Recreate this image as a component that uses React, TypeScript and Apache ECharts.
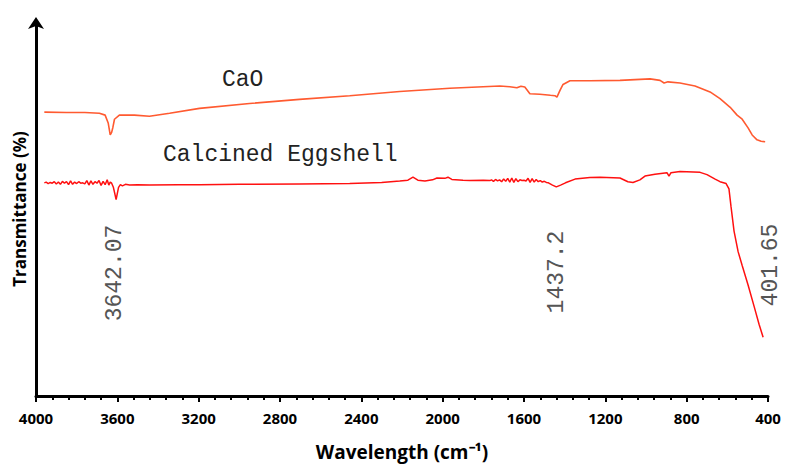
import React, { useEffect, useRef } from "react";
import * as echarts from "echarts";

const xTicks = [4000, 3600, 3200, 2800, 2400, 2000, 1600, 1200, 800, 400];

const caoWave = [3959, 3850, 3760, 3688, 3660, 3645, 3635, 3628, 3622, 3614, 3590, 3516, 3442, 3343, 3196, 2950, 2704, 2457, 2211, 1965, 1719, 1670, 1635, 1615, 1596, 1571, 1522, 1470, 1448, 1438, 1423, 1408, 1374, 1276, 1128, 980, 931, 911, 892, 833, 759, 685, 636, 586, 552, 527, 498, 478, 454, 434, 414];
const caoT = [75.9, 75.8, 75.8, 75.6, 75.1, 73.0, 69.8, 70.5, 71.8, 74.0, 75.1, 75.1, 74.8, 75.6, 76.9, 78.2, 79.3, 80.3, 81.4, 82.3, 82.9, 82.7, 82.4, 82.8, 82.6, 80.8, 80.7, 80.4, 80.3, 79.9, 81.7, 83.3, 84.3, 84.3, 84.4, 84.8, 84.4, 83.7, 84.0, 83.7, 82.9, 81.3, 79.5, 77.2, 75.1, 74.0, 71.7, 69.8, 68.5, 68.1, 68.0];

const eggWave = [3959, 3950, 3940, 3930, 3920, 3910, 3900, 3890, 3880, 3870, 3860, 3850, 3840, 3830, 3820, 3810, 3800, 3790, 3780, 3770, 3760, 3750, 3740, 3730, 3720, 3710, 3700, 3690, 3680, 3670, 3660, 3650, 3642, 3635, 3628, 3620, 3612, 3606, 3600, 3594, 3585, 3575, 3560, 3540, 3500, 3442, 3300, 3196, 3000, 2704, 2457, 2300, 2211, 2171, 2146, 2122, 2087, 2050, 2028, 1989, 1974, 1955, 1900, 1866, 1800, 1768, 1760, 1750, 1740, 1730, 1720, 1710, 1700, 1690, 1680, 1670, 1660, 1650, 1640, 1630, 1620, 1610, 1600, 1590, 1580, 1570, 1560, 1550, 1540, 1530, 1520, 1510, 1500, 1490, 1480, 1460, 1441, 1420, 1396, 1349, 1276, 1226, 1128, 1089, 1064, 1030, 1005, 956, 897, 887, 877, 833, 734, 700, 660, 636, 606, 592, 582, 567, 547, 527, 498, 468, 444, 424];
const eggT = [57.0, 57.2, 56.8, 57.1, 56.9, 57.3, 56.7, 57.2, 56.6, 57.4, 56.9, 57.3, 56.5, 57.5, 56.6, 57.2, 56.8, 57.3, 56.9, 57.0, 56.7, 57.6, 56.4, 57.5, 56.6, 57.3, 56.9, 57.6, 56.3, 57.4, 56.5, 57.8, 56.4, 57.2, 56.9, 55.9, 54.0, 52.5, 54.2, 55.8, 56.5, 56.2, 56.6, 56.4, 56.5, 56.4, 56.5, 56.5, 56.6, 56.7, 56.8, 57.1, 57.5, 57.7, 58.5, 57.7, 57.5, 57.8, 58.3, 58.2, 58.5, 57.9, 57.7, 57.6, 57.7, 57.6, 57.8, 57.4, 57.9, 57.5, 57.8, 57.3, 58.0, 57.4, 58.2, 57.2, 58.3, 57.1, 58.1, 57.3, 57.8, 57.6, 57.7, 57.5, 58.2, 57.1, 58.1, 57.2, 57.9, 57.3, 57.6, 57.2, 57.4, 57.1, 57.0, 56.4, 55.9, 56.4, 57.0, 58.0, 58.4, 58.5, 58.3, 57.3, 57.1, 57.8, 58.8, 59.3, 59.7, 58.8, 59.7, 60.0, 59.8, 59.2, 58.0, 57.3, 56.8, 55.4, 50.7, 44.1, 38.6, 34.9, 29.7, 23.9, 19.2, 15.7];

const seriesNames = ["CaO", "Calcined Eggshell"];
const peakLabels = ["3642.07", "1437.2", "401.65"];

export default function App() {
  const ref = useRef<HTMLDivElement>(null);
  useEffect(() => {
    if (!ref.current) return;
    const chart = echarts.init(ref.current, null, { renderer: "svg" });
    const mono = "Liberation Mono, Courier New, monospace";
    chart.setOption({
      animation: false,
      backgroundColor: "#ffffff",
      grid: { left: 36, right: 17, top: 22, bottom: 63 },
      xAxis: {
        type: "value",
        inverse: true,
        min: 400,
        max: 4000,
        interval: 400,
        name: "Wavelength (cm⁻¹)",
        nameLocation: "middle",
        nameGap: 46,
        nameTextStyle: { fontFamily: "Open Sans", fontWeight: "bold", fontSize: 19, color: "#000" },
        axisLine: { lineStyle: { color: "#000", width: 3 } },
        axisTick: { show: true, length: 6, lineStyle: { color: "#000", width: 2 } },
        minorTick: { show: true, splitNumber: 5, length: 4, lineStyle: { color: "#000", width: 2 } },
        splitLine: { show: false },
        axisLabel: {
          margin: 14,
          fontFamily: "Open Sans",
          fontWeight: "bold",
          fontSize: 15,
          color: "#000",
          formatter: (v: number) => (xTicks.includes(v) ? String(v) : ""),
        },
      },
      yAxis: {
        type: "value",
        min: 0,
        max: 100,
        name: "Transmittance (%)",
        nameLocation: "middle",
        nameRotate: 90,
        nameGap: 8,
        nameTextStyle: { fontFamily: "Open Sans", fontWeight: "bold", fontSize: 17, color: "#000" },
        axisLine: {
          show: true,
          symbol: ["none", "arrow"],
          symbolSize: [12, 12],
          symbolOffset: [0, 5],
          lineStyle: { color: "#000", width: 3 },
        },
        axisTick: { show: false },
        axisLabel: { show: false },
        splitLine: { show: false },
      },
      series: [
        {
          name: seriesNames[0],
          type: "line",
          showSymbol: false,
          data: caoWave.map((w, i) => [w, caoT[i]]),
          lineStyle: { color: "#ff5a30", width: 1.6 },
        },
        {
          name: seriesNames[1],
          type: "line",
          showSymbol: false,
          data: eggWave.map((w, i) => [w, eggT[i]]),
          lineStyle: { color: "#ff1010", width: 1.5 },
        },
      ],
      graphic: [
        {
          type: "text",
          x: 222,
          y: 80,
          style: { text: seriesNames[0], font: `23px ${mono}`, fill: "#222", align: "left", verticalAlign: "middle" },
        },
        {
          type: "text",
          x: 163,
          y: 155,
          style: { text: seriesNames[1], font: `23px ${mono}`, fill: "#222", align: "left", verticalAlign: "middle" },
        },
        {
          type: "text",
          x: 115,
          y: 273,
          rotation: Math.PI / 2,
          style: { text: peakLabels[0], font: `23px ${mono}`, fill: "#555", align: "center", verticalAlign: "middle" },
        },
        {
          type: "text",
          x: 557,
          y: 272,
          rotation: Math.PI / 2,
          style: { text: peakLabels[1], font: `23px ${mono}`, fill: "#555", align: "center", verticalAlign: "middle" },
        },
        {
          type: "text",
          x: 771,
          y: 265,
          rotation: Math.PI / 2,
          style: { text: peakLabels[2], font: `23px ${mono}`, fill: "#555", align: "center", verticalAlign: "middle" },
        },
      ],
    });
    return () => chart.dispose();
  }, []);
  return <div ref={ref} style={{ position: "fixed", left: 0, top: 0, width: 785, height: 466 }} />;
}
